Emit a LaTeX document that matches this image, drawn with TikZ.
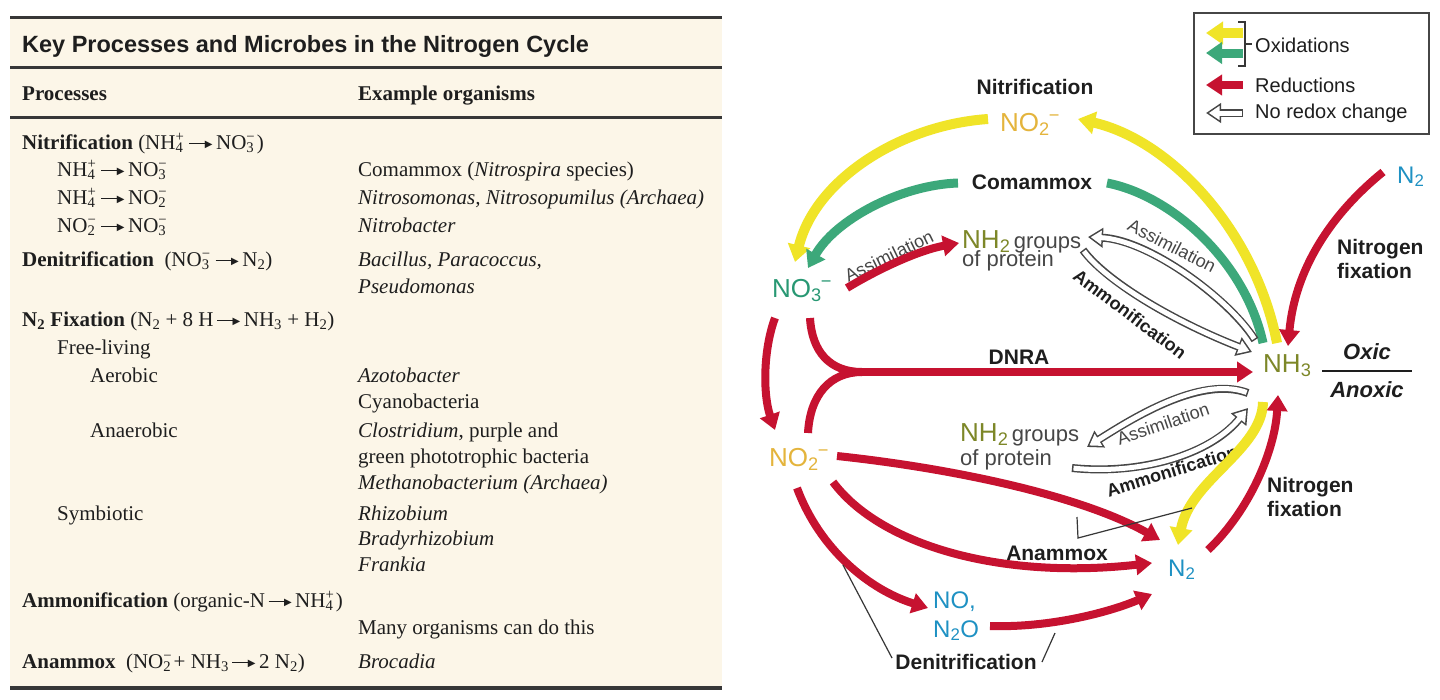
\documentclass[tikz,border=0pt]{standalone}
\usepackage{fontspec}
\setmainfont{Liberation Serif}
\setsansfont{Liberation Sans}
\newfontfamily\djv{DejaVu Sans}
\usetikzlibrary{arrows.meta}
\definecolor{cream}{RGB}{252,246,232}
\definecolor{rulecol}{RGB}{55,55,55}
\definecolor{redarr}{RGB}{198,18,48}
\definecolor{yelarr}{RGB}{240,228,40}
\definecolor{grnarr}{RGB}{60,168,122}
\definecolor{nocol}{RGB}{228,180,60}
\definecolor{nthree}{RGB}{40,152,115}
\definecolor{nhcol}{RGB}{125,135,40}
\definecolor{ncyan}{RGB}{30,145,195}
\definecolor{txt}{RGB}{30,30,30}
\definecolor{graytxt}{RGB}{70,70,70}
\definecolor{hollowgray}{RGB}{70,70,70}
\newcommand\tra{\,\rule[4.7pt]{17pt}{1.6pt}\kern-1.5pt\raisebox{1.2pt}{\djv\fontsize{10}{10}\selectfont ▶}\,}
\newcommand\sbsp[2]{\rlap{\textsuperscript{#2}}\textsubscript{#1}\kern0.12em}
\newcommand\hollowarrow[1]{\draw[hout] #1; \draw[hin] #1;}
\begin{document}
\begin{tikzpicture}[x=1pt,y=-1pt,
  tbl/.style={anchor=base west, inner sep=0pt, text=txt, font=\fontsize{21}{25}\selectfont},
  ttl/.style={anchor=base west, inner sep=0pt, text=txt, font=\sffamily\bfseries\fontsize{23.5}{27}\selectfont},
  hdr/.style={anchor=base west, inner sep=0pt, text=txt, font=\bfseries\fontsize{21}{25}\selectfont},
  tabrule/.style={draw=rulecol, line width=3pt},
  chem/.style={anchor=base west, inner sep=0pt, font=\sffamily\fontsize{26}{30}\selectfont},
  cyan/.style={chem, text=ncyan, font=\sffamily\fontsize{24}{28}\selectfont},
  lbl/.style={inner sep=0pt, text=txt, font=\sffamily\bfseries\fontsize{21}{24}\selectfont},
  glbl/.style={inner sep=0pt, text=graytxt, font=\sffamily\fontsize{22}{26}\selectfont},
  rlbl/.style={inner sep=0pt, text=graytxt, font=\sffamily\fontsize{18}{22}\selectfont},
  rblbl/.style={inner sep=0pt, text=txt, font=\sffamily\bfseries\fontsize{18}{22}\selectfont},
  leg/.style={anchor=west, inner sep=0pt, text=txt, font=\sffamily\fontsize{20}{24}\selectfont},
  redA/.style={draw=redarr, line width=8pt, -{Triangle[width=20pt,length=16pt]}},
  redL/.style={draw=redarr, line width=8pt},
  yelA/.style={draw=yelarr, line width=10pt, -{Triangle[width=22pt,length=17pt]}},
  grnA/.style={draw=grnarr, line width=9pt, -{Triangle[width=21pt,length=16pt]}},
  grnL/.style={draw=grnarr, line width=9pt},
  hout/.style={draw=hollowgray, line width=8pt, -{Triangle[width=19pt,length=15pt]}},
  hin/.style={draw=white, line width=5pt, -{Triangle[width=13.5pt,length=10.7pt]}, shorten >=2.8pt, shorten <=1.5pt},
  thinl/.style={draw=rulecol, line width=1.2pt}
]
\useasboundingbox (0,0) rectangle (1440,699);
\fill[white] (0,0) rectangle (1440,699);
% ---------------- table ----------------
\fill[cream] (10,17) rectangle (722,688);
\draw[tabrule] (10,17) -- (722,17);
\draw[tabrule] (10,67) -- (722,67);
\draw[tabrule] (10,117) -- (722,117);
\draw[draw=rulecol, line width=4pt] (10,688) -- (722,688);
\node[ttl] (title) at (22,52) {Key Processes and Microbes in the Nitrogen Cycle};
\node[hdr] (hproc) at (22,100) {Processes};
\node[hdr] (horg) at (358,100) {Example organisms};

\node[tbl] (r1) at (22,149) {\textbf{Nitrification} (NH\sbsp{4}{+}\tra NO\sbsp{3}{−})};
\node[tbl] (r2) at (57,176) {NH\sbsp{4}{+}\tra NO\sbsp{3}{−}};
\node[tbl] (o2) at (358,176) {Comammox (\textit{Nitrospira} species)};
\node[tbl] (r3) at (57,204) {NH\sbsp{4}{+}\tra NO\sbsp{2}{−}};
\node[tbl] (o3) at (358,204) {\textit{Nitrosomonas, Nitrosopumilus (Archaea)}};
\node[tbl] (r4) at (57,232) {NO\sbsp{2}{−}\tra NO\sbsp{3}{−}};
\node[tbl] (o4) at (358,232) {\textit{Nitrobacter}};
\node[tbl] (r5) at (22,266) {\textbf{Denitrification} \ (NO\sbsp{3}{−}\tra N\textsubscript{2})};
\node[tbl] (o5) at (358,266) {\textit{Bacillus, Paracoccus,}};
\node[tbl] (o6) at (358,293) {\textit{Pseudomonas}};
\node[tbl] (r7) at (22,326) {\textbf{N\textsubscript{2} Fixation} (N\textsubscript{2} + 8 H\tra NH\textsubscript{3} + H\textsubscript{2})};
\node[tbl] (r8) at (57,354) {Free-living};
\node[tbl] (r9) at (90,382) {Aerobic};
\node[tbl] (o9) at (358,382) {\textit{Azotobacter}};
\node[tbl] (o10) at (358,408) {Cyanobacteria};
\node[tbl] (r11) at (90,437) {Anaerobic};
\node[tbl] (o11) at (358,437) {\textit{Clostridium}, purple and};
\node[tbl] (o12) at (358,463) {green phototrophic bacteria};
\node[tbl] (o13) at (358,489) {\textit{Methanobacterium (Archaea)}};
\node[tbl] (r14) at (57,520) {Symbiotic};
\node[tbl] (o14) at (358,520) {\textit{Rhizobium}};
\node[tbl] (o15) at (358,545) {\textit{Bradyrhizobium}};
\node[tbl] (o16) at (358,571) {\textit{Frankia}};
\node[tbl] (r17) at (22,607) {\textbf{Ammonification} (organic-N\tra NH\sbsp{4}{+})};
\node[tbl] (o18) at (358,634) {Many organisms can do this};
\node[tbl] (r19) at (22,668) {\textbf{Anammox} \ (NO\sbsp{2}{−} + NH\textsubscript{3}\tra 2 N\textsubscript{2})};
\node[tbl] (o19) at (358,668) {\textit{Brocadia}};

% ---------------- legend ----------------
\node[draw=hollowgray, line width=1.5pt, minimum width=235pt, minimum height=121pt, inner sep=0pt, anchor=north west] (legend) at (1193,12) {};
\coordinate (lyA) at (1243,33); \coordinate (lyB) at (1206,33);
\coordinate (lgA) at (1243,53); \coordinate (lgB) at (1206,53);
\coordinate (lrA) at (1243,85); \coordinate (lrB) at (1206,85);
\coordinate (lhA) at (1243,113); \coordinate (lhB) at (1206,113);
\draw[yelA] (lyA) -- (lyB);
\draw[grnA] (lgA) -- (lgB);
\draw[redA] (lrA) -- (lrB);
\hollowarrow{(lhA) -- (lhB)}
\draw[thinl] (1238,22) -- (1245,22) -- (1245,66) -- (1238,66);
\draw[thinl] (1245,44) -- (1252,44);
\node[leg] (loxi) at (1255,45) {Oxidations};
\node[leg] (lred) at (1255,85) {Reductions};
\node[leg] (lnor) at (1255,113) {No redox change};

% ---------------- species nodes ----------------
\node[chem, text=nocol] (no2top) at (1000,131) {NO\textsubscript{2}\kern-1pt\textsuperscript{−}};
\node[chem, text=nthree] (no3) at (772,297) {NO\textsubscript{3}\kern-1pt\textsuperscript{−}};
\node[chem, text=nocol] (no2) at (769,466) {NO\textsubscript{2}\kern-1pt\textsuperscript{−}};
\node[chem, text=nhcol] (nh3) at (1263,372) {NH\textsubscript{3}};
\node[cyan] (n2top) at (1397,183) {N\textsubscript{2}};
\node[cyan] (n2) at (1168,576) {N\textsubscript{2}};
\node[cyan] (nox) at (933,608) {NO,};
\node[cyan] (ntwoo) at (933,637) {N\textsubscript{2}O};
\node[chem, text=nhcol] (nh2a) at (962,248) {NH\textsubscript{2}};
\node[glbl, anchor=base west, xshift=3pt] (grpa) at (nh2a.base east) {groups};
\node[glbl, anchor=base west] (prota) at (962,266) {of protein};
\node[chem, text=nhcol] (nh2b) at (960,441) {NH\textsubscript{2}};
\node[glbl, anchor=base west, xshift=3pt] (grpb) at (nh2b.base east) {groups};
\node[glbl, anchor=base west] (protb) at (960,465) {of protein};

% labels
\node[lbl] (nitlab) at (1035,87) {Nitrification};
\node[lbl] (comlab) at (1032,182) {Comammox};
\node[lbl] (dnra) at (1019,357) {DNRA};
\node[lbl] (anam) at (1057,553) {Anammox};
\node[lbl] (denit) at (966,662) {Denitrification};
\node[lbl, align=left, anchor=west] (nfixa) at (1337,259) {Nitrogen\\fixation};
\node[lbl, align=left, anchor=west] (nfixb) at (1267,497) {Nitrogen\\fixation};
\node[lbl, font=\sffamily\bfseries\itshape\fontsize{22}{26}\selectfont] (oxic) at (1367,352) {Oxic};
\node[lbl, font=\sffamily\bfseries\itshape\fontsize{22}{26}\selectfont] (anoxic) at (1367,390) {Anoxic};
\draw[draw=txt, line width=2pt] (1322,371) -- (1412,371);
\node[rlbl, rotate=26] (assr) at (889,256) {Assimilation};
\node[rlbl, rotate=-27] (assu) at (1172,246) {Assimilation};
\node[rblbl, rotate=-37] (ammu) at (1130,314) {Ammonification};
\node[rlbl, rotate=19] (assl) at (1163,424) {Assimilation};
\node[rblbl, rotate=17] (amml) at (1172,471) {Ammonification};

% ---------------- arrows ----------------
% nitrification (yellow)
\draw[yelA] (1277,343) .. controls (1255,230) and (1170,140) .. (1078,119);
\draw[yelA] (988,119) .. controls (900,125) and (815,180) .. (795,262);
% comammox (green)
\draw[grnL] (1263,343) .. controls (1245,260) and (1170,195) .. (1107,183);
\draw[grnA] (958,183) .. controls (900,185) and (835,220) .. (808,268);
% nitrogen fixation top
\draw[redA] (1383,172) .. controls (1330,215) and (1295,270) .. (1288,346);
% assimilation red
\draw[redA] (847,288) .. controls (880,268) and (920,250) .. (959,243);
% hollow arrows upper
\hollowarrow{(1255,340) .. controls (1230,300) and (1150,240) .. (1088,237)}
\hollowarrow{(1083,250) .. controls (1105,280) and (1170,320) .. (1252,352)}
% hollow arrows lower
\hollowarrow{(1248,393) .. controls (1200,375) and (1130,420) .. (1087,447)}
\hollowarrow{(1072,468) .. controls (1140,475) and (1210,455) .. (1248,408)}
% DNRA
\draw[redL] (810,318) .. controls (812,352) and (830,372) .. (862,372);
\draw[redL] (808,433) .. controls (810,395) and (830,372) .. (862,372);
\draw[redA] (852,372) -- (1253,372);
% NO3 -> NO2
\draw[redA] (775,318) .. controls (763,350) and (763,395) .. (775,430);
% anammox & denitrification
\draw[redA] (837,456) .. controls (950,468) and (1080,495) .. (1160,540);
\draw[redA] (833,482) .. controls (880,545) and (1000,580) .. (1152,563);
\draw[redA] (797,488) .. controls (820,550) and (870,590) .. (928,608);
\draw[redA] (990,626) .. controls (1050,628) and (1110,612) .. (1152,594);
% NH3 <-> N2
\draw[yelA] (1263,402) .. controls (1262,450) and (1190,480) .. (1178,545);
\draw[redA] (1208,550) .. controls (1250,510) and (1275,450) .. (1278,395);
% bracket lines
\draw[thinl] (1077,517) -- (1078,538) -- (1192,508);
\draw[thinl] (843,565) -- (892,658);
\draw[thinl] (1042,662) -- (1055,633);
\end{tikzpicture}
\end{document}
